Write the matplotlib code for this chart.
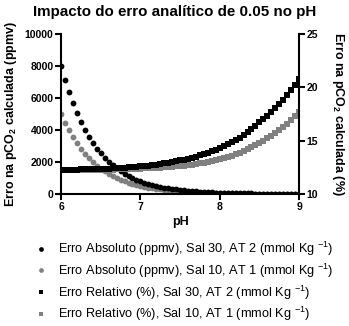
import matplotlib

matplotlib.use("Agg")
import matplotlib.pyplot as plt
from matplotlib.lines import Line2D

plt.rcParams["font.family"] = ["Liberation Sans", "DejaVu Sans"]
plt.rcParams["mathtext.fontset"] = "custom"
plt.rcParams["mathtext.rm"] = "Liberation Sans"
plt.rcParams["mathtext.bf"] = "Liberation Sans:bold"

ph = [round(6 + 0.05 * i, 2) for i in range(61)]

abs_sal30 = [
    8000, 7130, 6355, 5664, 5048, 4499, 4010, 3574, 3186, 2839,
    2530, 2255, 2010, 1791, 1597, 1423, 1268, 1130, 1007, 898,
    800, 713, 636, 566, 505, 450, 401, 357, 319, 284,
    253, 226, 201, 179, 160, 142, 127, 113, 101, 90,
    80, 71, 64, 57, 50, 45, 40, 36, 32, 28,
    25, 23, 20, 18, 16, 14, 13, 11, 10, 9, 8,
]
abs_sal10 = [
    5000, 4457, 3972, 3540, 3155, 2812, 2506, 2234, 1991, 1775,
    1582, 1410, 1256, 1120, 998, 890, 793, 707, 630, 561,
    500, 446, 397, 354, 316, 281, 251, 223, 199, 177,
    158, 141, 126, 112, 100, 89, 79, 71, 63, 56,
    50, 45, 40, 35, 32, 28, 25, 22, 20, 18,
    16, 14, 13, 11, 10, 9, 8, 7, 6, 6, 5,
]
rel_sal30 = [
    12.26, 12.27, 12.27, 12.28, 12.29, 12.30, 12.30, 12.31, 12.33, 12.34,
    12.35, 12.37, 12.38, 12.40, 12.42, 12.44, 12.46, 12.49, 12.52, 12.55,
    12.58, 12.62, 12.66, 12.70, 12.75, 12.80, 12.86, 12.92, 12.99, 13.07,
    13.15, 13.23, 13.31, 13.40, 13.50, 13.61, 13.73, 13.85, 13.99, 14.14,
    14.30, 14.47, 14.65, 14.84, 15.05, 15.27, 15.52, 15.78, 16.06, 16.37,
    16.70, 17.00, 17.32, 17.66, 18.03, 18.42, 18.83, 19.27, 19.75, 20.25, 20.80,
]
rel_sal10 = [
    12.23, 12.23, 12.24, 12.24, 12.24, 12.25, 12.25, 12.25, 12.26, 12.26,
    12.27, 12.28, 12.28, 12.29, 12.30, 12.31, 12.32, 12.33, 12.34, 12.36,
    12.37, 12.39, 12.40, 12.42, 12.44, 12.47, 12.49, 12.52, 12.55, 12.58,
    12.62, 12.66, 12.70, 12.75, 12.81, 12.86, 12.93, 13.00, 13.07, 13.16,
    13.25, 13.35, 13.46, 13.58, 13.71, 13.85, 14.01, 14.18, 14.37, 14.58,
    14.80, 15.00, 15.22, 15.45, 15.70, 15.97, 16.26, 16.57, 16.91, 17.27, 17.66,
]

labels = [
    r"Erro Absoluto (ppmv), Sal 30, AT 2 (mmol Kg $^{-1}$)",
    r"Erro Absoluto (ppmv), Sal 10, AT 1 (mmol Kg $^{-1}$)",
    r"Erro Relativo (%), Sal 30, AT 2 (mmol Kg $^{-1}$)",
    r"Erro Relativo (%), Sal 10, AT 1 (mmol Kg $^{-1}$)",
]

grey = "#808080"
fig = plt.figure(figsize=(3.49, 3.26), dpi=100)
ax = fig.add_axes([0.175, 0.405, 0.682, 0.491])
ax2 = ax.twinx()

ax.plot(ph, abs_sal30, "o", color="black", ms=4.2, mew=0, zorder=3)
ax.plot(ph, abs_sal10, "o", color=grey, ms=4.2, mew=0, zorder=2)
ax2.plot(ph, rel_sal10, "s", color=grey, ms=3.8, mew=0)
ax2.plot(ph, rel_sal30, "s", color="black", ms=3.8, mew=0)

ax.set_xlim(6, 9)
ax.set_ylim(0, 10000)
ax2.set_ylim(10, 25)
ax.set_xticks([6, 7, 8, 9])
ax.set_yticks(range(0, 10001, 2000))
ax2.set_yticks([10, 15, 20, 25])

for a in (ax, ax2):
    a.spines["top"].set_visible(False)
    for s in a.spines.values():
        s.set_linewidth(1.5)
    a.tick_params(width=1.5, length=4, labelsize=7.5, pad=1.5)
    for t in a.get_xticklabels() + a.get_yticklabels():
        t.set_fontweight("bold")
ax.spines["right"].set_visible(False)
ax2.spines["left"].set_visible(False)
ax2.spines["bottom"].set_visible(False)

ax.set_xlabel("pH", fontsize=9, fontweight="bold", labelpad=3)
ax.set_ylabel(r"Erro na pCO$_\mathbf{2}$ calculada (ppmv)", fontsize=9,
              fontweight="bold", labelpad=4)
ax2.set_ylabel(r"Erro na pCO$_\mathbf{2}$ calculada (%)", fontsize=9,
               fontweight="bold", rotation=270, labelpad=20)
fig.suptitle("Impacto do erro analítico de 0.05 no pH", fontsize=10.9,
             fontweight="bold", y=0.985)

handles = [
    Line2D([], [], ls="none", marker="o", color="black", ms=3.4, mew=0),
    Line2D([], [], ls="none", marker="o", color=grey, ms=3.4, mew=0),
    Line2D([], [], ls="none", marker="s", color="black", ms=3.2, mew=0),
    Line2D([], [], ls="none", marker="s", color=grey, ms=3.2, mew=0),
]
fig.legend(handles, labels, loc="upper left", bbox_to_anchor=(0.085, 0.28),
           frameon=False, fontsize=9.2, handlelength=1.0, handletextpad=0.85,
           labelspacing=0.28, borderaxespad=0)

fig.savefig("out.png", dpi=100)
